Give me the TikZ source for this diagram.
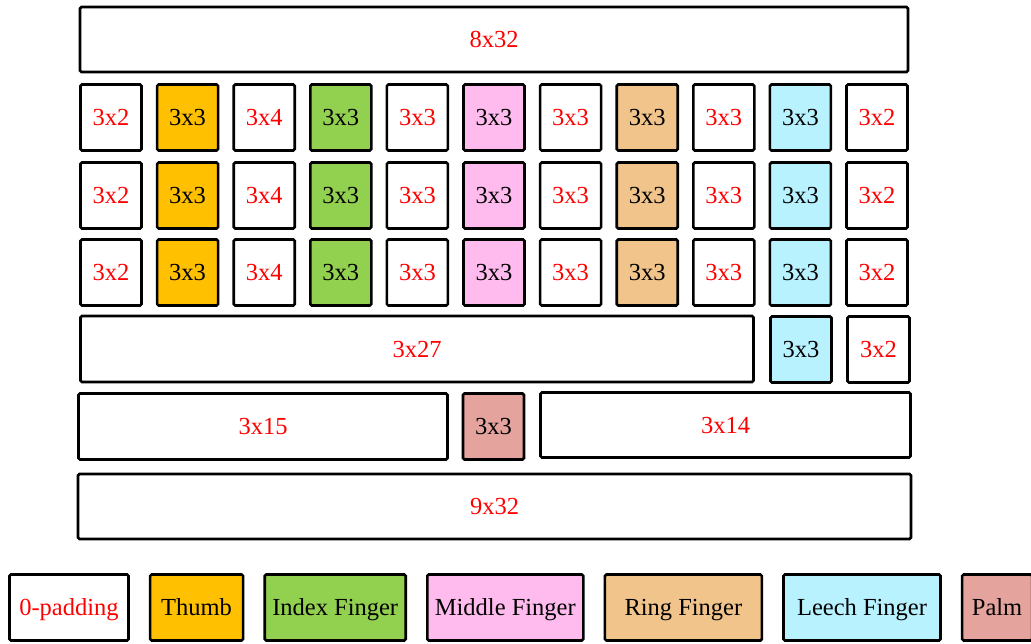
\documentclass[tikz,border=0pt]{standalone}
\usepackage{fontspec}
\setmainfont{Liberation Serif}
\usetikzlibrary{positioning}
\definecolor{thumbc}{HTML}{FFC000}
\definecolor{indexc}{HTML}{92D050}
\definecolor{middlec}{HTML}{FFBBEE}
\definecolor{ringc}{HTML}{F0C48A}
\definecolor{leechc}{HTML}{B8F2FF}
\definecolor{palmc}{HTML}{E5A39E}
\tikzset{
    block/.style={
        rectangle,
        rounded corners=1.5pt,
        draw, line width=2.6pt,
        inner sep=0pt,
        minimum height=66pt,
        text height=16pt, text depth=0pt,
        font=\fontsize{24.5}{24.5}\selectfont
    },
    pad/.style={block, fill=white, text=red},
    part/.style={block, text=black}
}
\begin{document}
\begin{tikzpicture}[x=1pt, y=-1pt]
    \useasboundingbox (0,0) rectangle (1031,643);
    % top and bottom padding
    \node[pad, minimum width=828pt, minimum height=65pt] (top) at (494,39.5) {8x32};
    \node[pad, minimum width=833pt, minimum height=65pt] (bottom) at (494.5,506.5) {9x32};
    % three rows of fingers
    \foreach \r/\y in {1/117.5, 2/195.5, 3/272.5} {
        \foreach \c/\lab/\fc/\tc in {
            1/3x2/white/red, 2/3x3/thumbc/black, 3/3x4/white/red,
            4/3x3/indexc/black, 5/3x3/white/red, 6/3x3/middlec/black,
            7/3x3/white/red, 8/3x3/ringc/black, 9/3x3/white/red,
            10/3x3/leechc/black, 11/3x2/white/red} {
            \node[block, minimum width=61pt, fill=\fc, text=\tc]
                (cell\r-\c) at ({111+76.6*(\c-1)},\y) {\lab};
        }
    }
    % fourth row
    \node[pad, minimum width=673pt] (rowd) at (417,349) {3x27};
    \node[part, fill=leechc, minimum width=61pt] (leechd) at (801,349.5) {3x3};
    \node[pad, minimum width=62pt] (padd) at (878.5,349.5) {3x2};
    % palm row
    \node[pad, minimum width=369pt] (rowel) at (263,426.5) {3x15};
    \node[part, fill=palmc, minimum width=61pt] (palm) at (493.5,426.5) {3x3};
    \node[pad, minimum width=370pt, minimum height=65pt] (rower) at (725.5,425) {3x14};
    % legend
    \node[pad, minimum width=119pt] (lpad) at (69,607.5) {0-padding};
    \node[part, fill=thumbc, minimum width=93pt, right=19pt of lpad] (lthumb) {Thumb};
    \node[part, fill=indexc, minimum width=141pt, right=19pt of lthumb] (lindex) {Index Finger};
    \node[part, fill=middlec, minimum width=156pt, right=19pt of lindex] (lmiddle) {Middle Finger};
    \node[part, fill=ringc, minimum width=157pt, right=19pt of lmiddle] (lring) {Ring Finger};
    \node[part, fill=leechc, minimum width=157pt, right=19pt of lring] (lleech) {Leech Finger};
    \node[part, fill=palmc, minimum width=70pt, right=19pt of lleech] (lpalm) {Palm};
\end{tikzpicture}
\end{document}
